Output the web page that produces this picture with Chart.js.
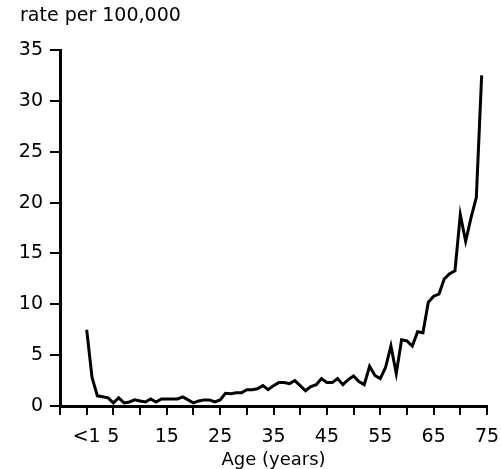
<!DOCTYPE html>
<html>
<head>
<meta charset="utf-8">
<script src="https://cdn.jsdelivr.net/npm/chart.js@4/dist/chart.umd.min.js"></script>
<style>
  html, body { margin: 0; padding: 0; background: #fff; }
  #wrap { width: 501px; height: 469px; }
</style>
</head>
<body>
<div id="wrap"><canvas id="grafico" width="501" height="469"></canvas></div>
<script>
// Idade (anos) e taxa por 100.000
const ages = [
  0, 1, 2, 3, 4, 5, 6, 7, 8, 9,
  10, 11, 12, 13, 14, 15, 16, 17, 18, 19,
  20, 21, 22, 23, 24, 25, 26, 27, 28, 29,
  30, 31, 32, 33, 34, 35, 36, 37, 38, 39,
  40, 41, 42, 43, 44, 45, 46, 47, 48, 49,
  50, 51, 52, 53, 54, 55, 56, 57, 58, 59,
  60, 61, 62, 63, 64, 65, 66, 67, 68, 69,
  70, 71, 72, 73, 74
];
const rates = [
  7.5, 2.8, 1.0, 0.9, 0.8, 0.3, 0.8, 0.3, 0.4, 0.6,
  0.5, 0.4, 0.7, 0.4, 0.7, 0.7, 0.7, 0.7, 0.9, 0.6,
  0.3, 0.5, 0.6, 0.6, 0.4, 0.6, 1.25, 1.2, 1.3, 1.3,
  1.6, 1.6, 1.7, 2.0, 1.6, 2.0, 2.3, 2.3, 2.2, 2.5,
  2.0, 1.5, 1.9, 2.1, 2.7, 2.3, 2.3, 2.7, 2.1, 2.6,
  2.95, 2.4, 2.1, 3.9, 3.0, 2.7, 3.8, 5.9, 3.2, 6.5,
  6.4, 5.9, 7.3, 7.2, 10.2, 10.8, 11.0, 12.5, 13.0, 13.3,
  18.8, 16.2, 18.5, 20.5, 32.5
];
// rótulos do eixo x (só alguns valores aparecem)
const xTickLabels = { 0: '<1', 5: '5', 15: '15', 25: '25', 35: '35', 45: '45', 55: '55', 65: '65', 75: '75' };

const fonte = 'DejaVu Sans';
const pontos = ages.map((a, i) => ({ x: a, y: rates[i] }));

new Chart(document.getElementById('grafico').getContext('2d'), {
  type: 'line',
  data: {
    datasets: [{
      data: pontos,
      borderColor: '#000',
      borderWidth: 3,
      pointRadius: 0,
      tension: 0,
      fill: false
    }]
  },
  options: {
    responsive: false,
    animation: false,
    layout: { padding: { left: 20, right: 14, top: 0, bottom: 0 } },
    plugins: {
      legend: { display: false },
      tooltip: { enabled: false },
      title: {
        display: true,
        text: 'rate per 100,000',
        align: 'start',
        color: '#000',
        font: { family: fonte, size: 19, weight: 'normal', lineHeight: 1.2 },
        padding: { top: 5, bottom: 22.2 }
      }
    },
    scales: {
      x: {
        type: 'linear',
        min: -5,
        max: 75,
        afterFit: s => { s.height = 63; s.paddingLeft = 0; s.paddingRight = 0; },
        border: { display: true, color: '#000', width: 3 },
        grid: { drawOnChartArea: false, color: '#000', lineWidth: 2, tickLength: 9 },
        ticks: {
          stepSize: 5,
          autoSkip: false,
          maxRotation: 0,
          color: '#000',
          padding: 11,
          font: { family: fonte, size: 19 },
          callback: v => xTickLabels[v] !== undefined ? xTickLabels[v] : ''
        },
        title: {
          display: true,
          text: 'Age (years)',
          color: '#000',
          font: { family: fonte, size: 18, lineHeight: 1 },
          padding: { top: 0, bottom: 0 }
        }
      },
      y: {
        min: 0,
        max: 35,
        afterFit: s => { s.width = 40; },
        border: { display: true, color: '#000', width: 3 },
        grid: { drawOnChartArea: false, color: '#000', lineWidth: 2, tickLength: 10 },
        ticks: {
          stepSize: 5,
          color: '#000',
          padding: 7,
          font: { family: fonte, size: 19 }
        }
      }
    }
  }
});
</script>
</body>
</html>
